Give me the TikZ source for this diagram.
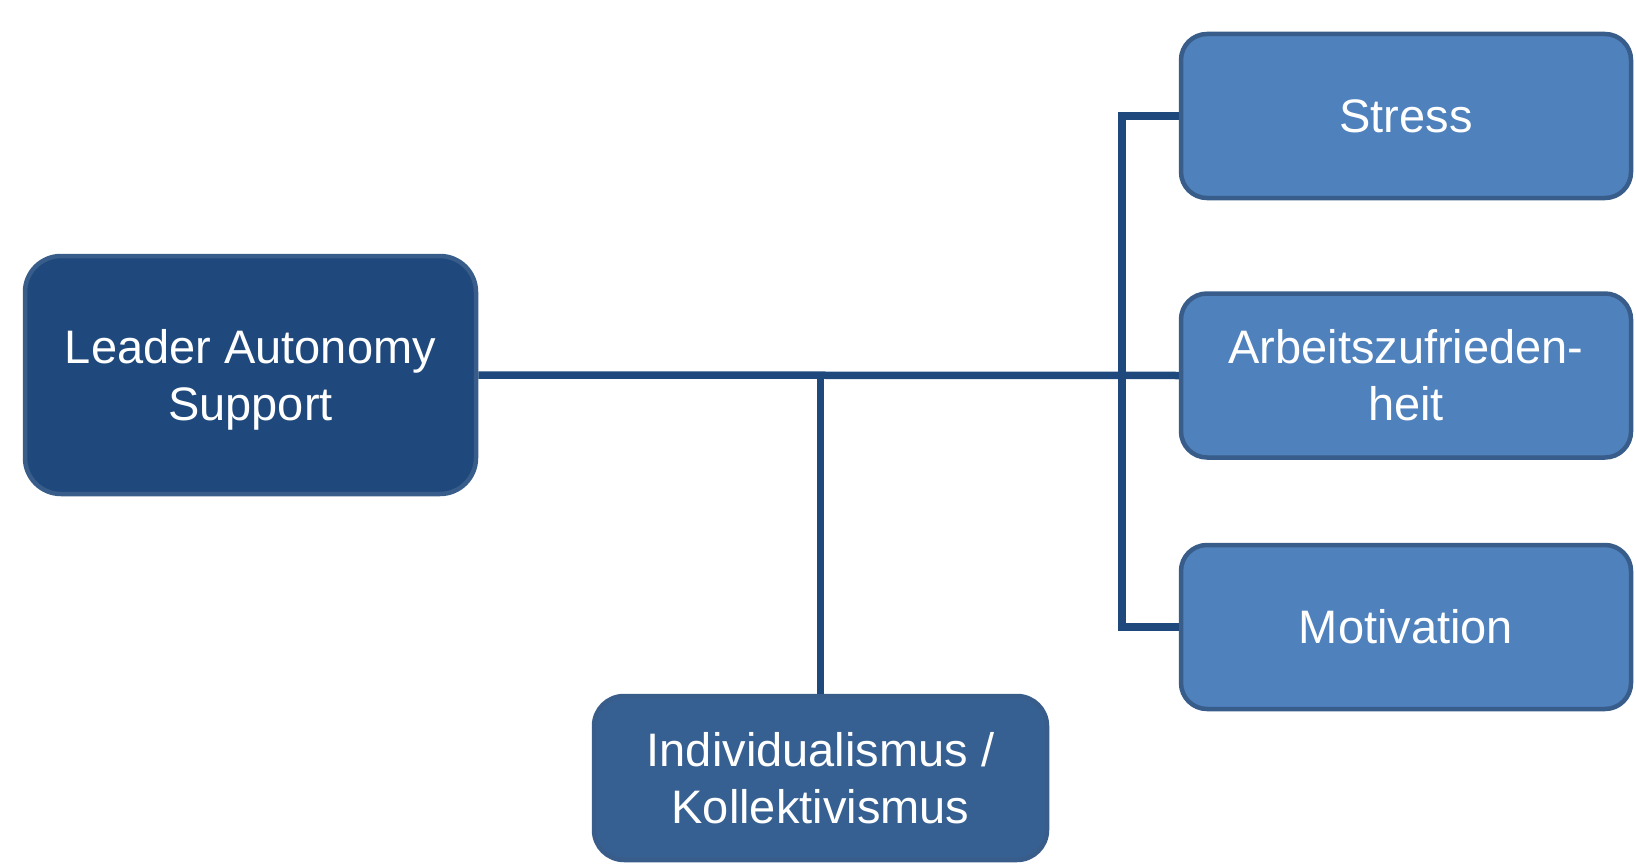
\documentclass[tikz,border=0pt]{standalone}
\usepackage{fontspec}
\setmainfont{Liberation Sans}
\definecolor{darkfill}{HTML}{1F497D}
\definecolor{midfill}{HTML}{376092}
\definecolor{lightfill}{HTML}{4F81BD}
\definecolor{boxborder}{HTML}{385D8A}
\definecolor{connline}{HTML}{1F497D}
\begin{document}
\begin{tikzpicture}[x=1pt,y=-1pt,
  box/.style={draw=boxborder, line width=4.5pt, align=center, text=white,
    font=\fontsize{47}{57}\selectfont, inner sep=0pt},
  boxtext/.style={align=center, text=white, font=\fontsize{47}{57}\selectfont, inner sep=0pt},
  leadbox/.style={box, fill=darkfill, rounded corners=36pt, minimum width=451pt, minimum height=238pt},
  outbox/.style={box, fill=lightfill, rounded corners=26pt, minimum width=450pt, minimum height=164pt},
  modbox/.style={box, fill=midfill, rounded corners=30pt, minimum width=453pt, minimum height=164pt},
  conn/.style={draw=connline, line width=7.5pt}]
\useasboundingbox (0,0) rectangle (1636,864);
\node[leadbox] (lead) at (250.5,375) {};
\node[boxtext] (leadtext) at ([yshift=-5pt]lead.center) {Leader Autonomy\\Support};
\node[outbox] (stress) at (1406,116) {Stress};
\node[outbox] (arb) at (1406,375.5) {Arbeitszufrieden-\\heit};
\node[outbox] (motiv) at (1406,627) {Motivation};
\node[modbox] (ind) at (820.5,778) {Individualismus /\\Kollektivismus};
\coordinate (bx) at (1122,0);
\draw[conn] (lead.east) -- (arb.west);
\draw[conn] (stress.west) -- (bx |- stress.west) -- (bx |- motiv.west) -- (motiv.west);
\draw[conn] (ind.north) -- (ind.north |- lead.east);
\end{tikzpicture}
\end{document}
